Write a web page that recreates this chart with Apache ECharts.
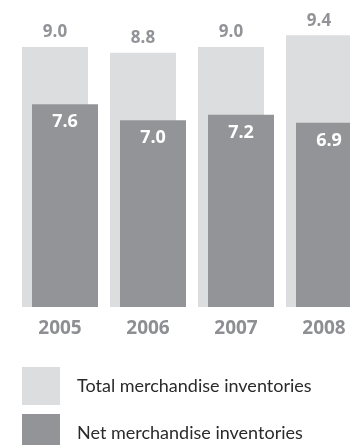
<!DOCTYPE html>
<html>
<head>
<meta charset="utf-8">
<script src="https://cdn.jsdelivr.net/npm/echarts@6/dist/echarts.min.js"></script>
<style>
  html, body { margin: 0; padding: 0; background: #fff; }
  #chart { width: 350px; height: 445px; }
</style>
</head>
<body>
<div id="chart"></div>
<script>
// Merchandise inventories by year
const years = ['2005', '2006', '2007', '2008'];
const totalInventories = [9.0, 8.8, 9.0, 9.4];
const netInventories = [7.6, 7.0, 7.2, 6.9];

const seriesNames = ['Total merchandise inventories', 'Net merchandise inventories'];
const lightGray = '#dcdddf';
const darkGray = '#939497';
const boldFont = '"Open Sans", sans-serif';
const textFont = 'Lato, sans-serif';

const chart = echarts.init(document.getElementById('chart'));

// one legend block per series, stacked down the lower left
const legendBlock = (name, top) => ({
  orient: 'vertical',
  left: 22,
  top: top,
  padding: 0,
  itemWidth: 38,
  itemHeight: 38,
  icon: 'rect',
  selectedMode: false,
  textStyle: {
    color: '#2a2a2a',
    fontFamily: textFont,
    fontSize: 18,
    padding: [4, 0, 0, 12]
  },
  data: [name]
});

chart.setOption({
  animation: false,
  grid: {
    left: 16, width: 352, top: 18, bottom: 138,
    outerBoundsMode: 'none', containLabel: false
  },
  xAxis: {
    type: 'category',
    data: years,
    axisLine: { show: false },
    axisTick: { show: false },
    axisLabel: {
      color: '#8e8f93',
      fontFamily: boldFont,
      fontWeight: 'bold',
      fontSize: 19,
      margin: 12
    }
  },
  yAxis: [
    { type: 'value', min: 0, max: 10, show: false, splitLine: { show: false } },
    { type: 'value', min: 0, max: 10.83, show: false, splitLine: { show: false } }
  ],
  legend: [
    legendBlock(seriesNames[0], 367),
    legendBlock(seriesNames[1], 414)
  ],
  series: [
    {
      name: seriesNames[0],
      type: 'bar',
      yAxisIndex: 0,
      data: totalInventories,
      barWidth: 66,
      barGap: '-84.85%',
      itemStyle: { color: lightGray },
      label: {
        show: true,
        position: 'top',
        distance: 6,
        formatter: p => p.value.toFixed(1),
        color: '#929397',
        fontFamily: boldFont,
        fontWeight: 'bold',
        fontSize: 17
      }
    },
    {
      name: seriesNames[1],
      type: 'bar',
      yAxisIndex: 1,
      data: netInventories,
      barWidth: 66,
      itemStyle: { color: darkGray },
      label: {
        show: true,
        position: 'insideTop',
        distance: 9,
        formatter: p => p.value.toFixed(1),
        color: '#ffffff',
        fontFamily: boldFont,
        fontWeight: 'bold',
        fontSize: 18
      }
    }
  ]
});
</script>
</body>
</html>
